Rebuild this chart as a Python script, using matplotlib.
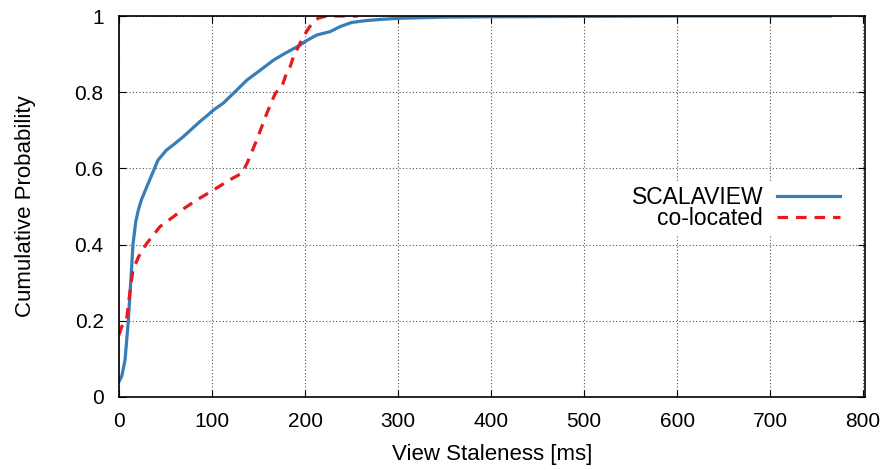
import matplotlib
matplotlib.use("Agg")
import matplotlib.pyplot as plt

# SCALAVIEW CDF
sv_x = [0, 3, 6.5, 10, 13, 15, 18, 20.7, 24, 33, 42, 51, 60, 69, 78, 87, 95, 101.4, 112, 123, 137.6,
        152, 166, 177, 186, 195, 200, 212.5, 227, 237.6, 250, 266, 281, 301, 350, 400, 500, 600, 765]
sv_y = [0.04, 0.055, 0.097, 0.20, 0.315, 0.40, 0.46, 0.49, 0.517, 0.57, 0.622, 0.648, 0.665, 0.683,
        0.703, 0.723, 0.739, 0.753, 0.771, 0.797, 0.832, 0.858, 0.884, 0.90, 0.912, 0.924, 0.933, 0.95,
        0.959, 0.972, 0.983, 0.988, 0.991, 0.994, 0.997, 0.998, 0.999, 1.0, 1.0]

# co-located CDF
co_x = [0, 3, 8, 12, 15, 21, 29.8, 44, 58.4, 70, 83.5, 101.4, 119, 131.9, 137.6, 148, 159, 168, 175,
        180, 184, 187.5, 194.6, 198, 205, 214, 223, 257]
co_y = [0.163, 0.185, 0.20, 0.28, 0.333, 0.368, 0.403, 0.447, 0.473, 0.495, 0.517, 0.543, 0.57, 0.587,
        0.613, 0.674, 0.745, 0.797, 0.814, 0.849, 0.867, 0.893, 0.928, 0.945, 0.972, 0.994, 1.0, 1.0]

x_ticks = [0, 100, 200, 300, 400, 500, 600, 700, 800]
y_ticks = [0, 0.2, 0.4, 0.6, 0.8, 1.0]
y_tick_labels = ["0", "0.2", "0.4", "0.6", "0.8", "1"]

plt.rcParams['font.family'] = ['Liberation Sans', 'DejaVu Sans']

fig = plt.figure(figsize=(8.93, 4.70), dpi=100)
ax = fig.add_axes([119 / 893, 1 - 397 / 470, (865 - 119) / 893, (397 - 16) / 470])

ax.plot(sv_x, sv_y, color='#377eb8', lw=2.3, label='SCALAVIEW', solid_joinstyle='round')
ax.plot(co_x, co_y, color='#e41a1c', lw=2.3, ls=(0, (3.3, 2.5)), label='co-located')

ax.set_xlim(0, 802)
ax.set_ylim(0, 1)
ax.set_xticks(x_ticks)
ax.set_yticks(y_ticks)
ax.set_yticklabels(y_tick_labels)
ax.tick_params(direction='in', top=True, right=True, length=5, width=0.8, labelsize=15)
ax.tick_params(axis='x', pad=11)
ax.tick_params(axis='y', pad=11)
ax.grid(True, color='#555555', ls=(0, (1, 2)), lw=0.8)
for s in ax.spines.values():
    s.set_linewidth(1.2)

ax.set_xlabel('View Staleness [ms]', fontsize=16, labelpad=9)
ax.set_ylabel('Cumulative Probability', fontsize=16, labelpad=28)

leg = ax.legend(loc='center right', bbox_to_anchor=(0.988, 0.496), frameon=True, fontsize=16.5,
                handlelength=2.75, handletextpad=0.6, markerfirst=False, borderpad=0.2,
                labelspacing=-0.08, facecolor='white', edgecolor='none', framealpha=1)
for t in leg.get_texts():
    t.set_ha('right')

fig.savefig('out.png', dpi=100)
